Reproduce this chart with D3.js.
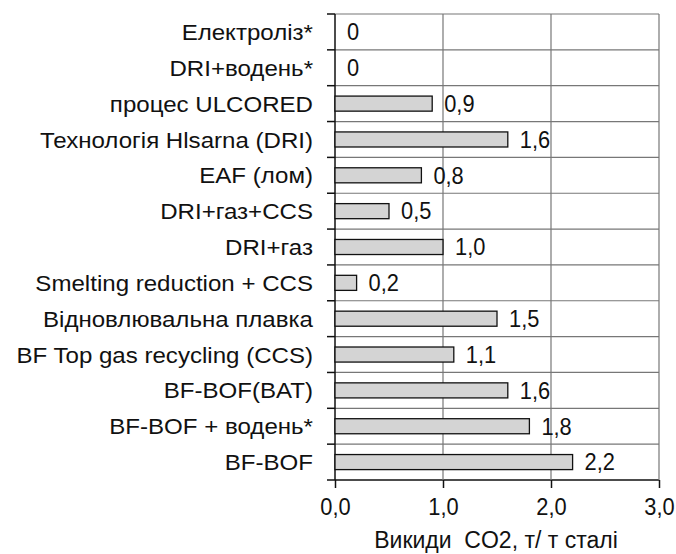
<!DOCTYPE html>
<html>
<head>
<meta charset="utf-8">
<script src="https://cdn.jsdelivr.net/npm/d3@7"></script>
<style>
  body { margin: 0; background: #fff; }
  svg text { font-family: "Liberation Sans", Arial, sans-serif; fill: #111; }
</style>
</head>
<body>
<div id="chart"></div>
<script>
// categories top to bottom
const categories = [
  "Електроліз*", "DRI+водень*", "процес ULCORED", "Технологія Hlsarna (DRI)",
  "EAF (лом)", "DRI+газ+CCS", "DRI+газ", "Smelting reduction + CCS",
  "Відновлювальна плавка", "BF Top gas recycling (CCS)", "BF-BOF(BAT)",
  "BF-BOF + водень*", "BF-BOF"
];
const values = [0, 0, 0.9, 1.6, 0.8, 0.5, 1.0, 0.2, 1.5, 1.1, 1.6, 1.8, 2.2];
const valueLabels = ["0", "0", "0,9", "1,6", "0,8", "0,5", "1,0", "0,2", "1,5", "1,1", "1,6", "1,8", "2,2"];
const xTicks = [0, 1, 2, 3];
const axisTitle = "Викиди  CO2, т/ т сталі";

const width = 676;
const height = 554;
const margin = { top: 14, right: 17, bottom: 74, left: 335 };

const svg = d3.select("#chart").append("svg")
  .attr("width", width)
  .attr("height", height);

const x = d3.scaleLinear().domain([0, 3]).range([margin.left, width - margin.right]);
const y = d3.scaleBand().domain(categories).range([margin.top, height - margin.bottom]).paddingInner(0.58).paddingOuter(0.29);
const band = (height - margin.bottom - margin.top) / categories.length;

// horizontal grid lines (row boundaries)
const g = svg.append("g");
d3.range(categories.length + 1).forEach(i => {
  const yy = margin.top + i * band;
  g.append("line")
    .attr("x1", x(0)).attr("x2", x(3))
    .attr("y1", yy).attr("y2", yy)
    .attr("stroke", i === categories.length ? "#111" : "#777").attr("stroke-width", i === categories.length ? 1.5 : 1.2);
  // left ticks
  g.append("line")
    .attr("x1", x(0) - 8).attr("x2", x(0))
    .attr("y1", yy).attr("y2", yy)
    .attr("stroke", "#111").attr("stroke-width", 1.5);
});

// vertical grid lines
xTicks.slice(1).forEach(t => {
  g.append("line")
    .attr("x1", x(t)).attr("x2", x(t))
    .attr("y1", margin.top).attr("y2", height - margin.bottom)
    .attr("stroke", "#777").attr("stroke-width", 1.2);
});

// x axis
const xAxis = svg.append("g")
  .attr("transform", `translate(0,${height - margin.bottom})`)
  .call(d3.axisBottom(x).tickValues(xTicks).tickSize(8).tickFormat(d => d3.format(".1f")(d).replace(".", ",")));
xAxis.select(".domain").remove();
xAxis.selectAll(".tick line").attr("stroke", "#111").attr("stroke-width", 1.5);
xAxis.selectAll(".tick text")
  .attr("font-size", 23)
  .attr("fill", "#111")
  .attr("y", null)
  .attr("dy", null)
  .attr("transform", "translate(0,35) scale(0.95,1)");

// left axis line
svg.append("line")
  .attr("x1", x(0)).attr("x2", x(0))
  .attr("y1", margin.top).attr("y2", height - margin.bottom)
  .attr("stroke", "#111").attr("stroke-width", 1.5);

// bars
svg.selectAll("rect.bar")
  .data(values)
  .join("rect")
  .attr("class", "bar")
  .attr("x", x(0))
  .attr("y", (d, i) => y(categories[i]))
  .attr("width", d => x(d) - x(0))
  .attr("height", y.bandwidth())
  .attr("fill", d => d > 0 ? "#d4d4d4" : "none")
  .attr("stroke", d => d > 0 ? "#111" : "none")
  .attr("stroke-width", 1.3);

// value labels
svg.selectAll("text.val")
  .data(values)
  .join("text")
  .attr("class", "val")
  .attr("transform", (d, i) => `translate(${x(d) + 12},${y(categories[i]) + y.bandwidth() / 2}) scale(0.95,1)`)
  .attr("dy", "0.36em")
  .attr("font-size", 23)
  .text((d, i) => valueLabels[i]);

// category labels
svg.selectAll("text.cat")
  .data(categories)
  .join("text")
  .attr("class", "cat")
  .attr("transform", d => `translate(313,${y(d) + y.bandwidth() / 2}) scale(1.07,1)`)
  .attr("text-anchor", "end")
  .attr("dy", "0.36em")
  .attr("font-size", 22.5)
  .style("white-space", "pre")
  .text(d => d);

// axis title
svg.append("text")
  .attr("transform", "translate(496,548)")
  .attr("text-anchor", "middle")
  .attr("font-size", 23)
  .style("white-space", "pre")
  .text(axisTitle);
</script>
</body>
</html>
